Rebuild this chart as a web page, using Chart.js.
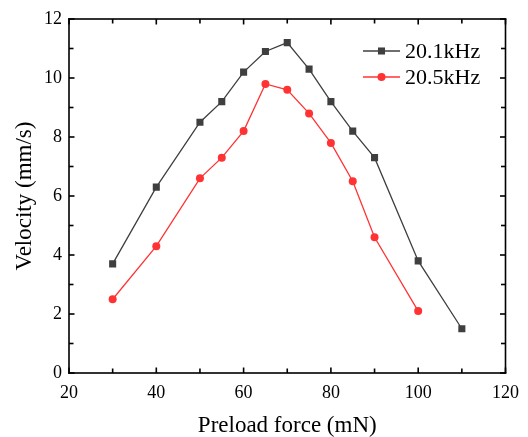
<!DOCTYPE html>
<html>
<head>
<meta charset="utf-8">
<script src="https://cdn.jsdelivr.net/npm/chart.js@4"></script>
<style>
  html, body { margin: 0; padding: 0; background: #fff; }
  #wrap { width: 528px; height: 437px; }
</style>
</head>
<body>
<div id="wrap"><canvas id="chart" width="528" height="437"></canvas></div>
<script>
let forces201 = [30, 40, 50, 55, 60, 65, 70, 75, 80, 85, 90, 100, 110];
let velocity201 = [3.7, 6.3, 8.5, 9.2, 10.2, 10.9, 11.2, 10.3, 9.2, 8.2, 7.3, 3.8, 1.5];

let forces205 = [30, 40, 50, 55, 60, 65, 70, 75, 80, 85, 90, 100];
let velocity205 = [2.5, 4.3, 6.6, 7.3, 8.2, 9.8, 9.6, 8.8, 7.8, 6.5, 4.6, 2.1];

let seriesNames = ['20.1kHz', '20.5kHz'];
let xTitle = 'Preload force (mN)';
let yTitle = 'Velocity (mm/s)';

let darkColor = '#3f3f3f';
let redColor = '#ff3333';
let fontFamily = '"Liberation Serif", "Times New Roman", serif';

function toPoints(xs, ys) {
    let pts = [];
    for (let i = 0; i < xs.length; i++) {
        pts.push({ x: xs[i], y: ys[i] });
    }
    return pts;
}

// box round the plot with small ticks pointing inward on all four sides
let inwardTicks = {
    id: 'inwardTicks',
    afterDraw(chart) {
        let c = chart.ctx;
        let area = chart.chartArea;
        let xs = chart.scales.x;
        let ys = chart.scales.y;
        let w = 1.6;
        c.save();
        c.fillStyle = '#000000';
        c.fillRect(area.left - w / 2, area.top - w / 2, w, area.bottom - area.top + w);
        c.fillRect(area.right - w / 2, area.top - w / 2, w, area.bottom - area.top + w);
        c.fillRect(area.left - w / 2, area.top - w / 2, area.right - area.left + w, w);
        c.fillRect(area.left - w / 2, area.bottom - w / 2, area.right - area.left + w, w);
        xs.ticks.forEach(t => {
            let px = xs.getPixelForValue(t.value);
            let len = t.value % 20 === 0 ? 5.5 : 4.5;
            c.fillRect(px - w / 2, area.bottom - len, w, len);
            c.fillRect(px - w / 2, area.top, w, len);
        });
        ys.ticks.forEach(t => {
            let py = ys.getPixelForValue(t.value);
            let len = t.value % 2 === 0 ? 5.5 : 4.5;
            c.fillRect(area.left, py - w / 2, len, w);
            c.fillRect(area.right - len, py - w / 2, len, w);
        });
        c.restore();
    }
};

// legend drawn inside the plot, top right
let innerLegend = {
    id: 'innerLegend',
    afterDatasetsDraw(chart) {
        let c = chart.ctx;
        let area = chart.chartArea;
        c.save();
        chart.data.datasets.forEach((ds, i) => {
            let y = area.top + 32 + i * 26;
            let x0 = area.left + 294;
            let x1 = x0 + 37;
            c.strokeStyle = ds.borderColor;
            c.lineWidth = 1.3;
            c.beginPath();
            c.moveTo(x0, y);
            c.lineTo(x1, y);
            c.stroke();
            c.fillStyle = ds.backgroundColor;
            Chart.helpers.drawPoint(c, {
                pointStyle: ds.pointStyle,
                radius: ds.pointRadius,
                borderWidth: 0
            }, (x0 + x1) / 2, y);
            c.fillStyle = '#000';
            c.font = '22px ' + fontFamily;
            c.textBaseline = 'middle';
            c.textAlign = 'left';
            c.fillText(ds.label, x1 + 5, y + 1);
        });
        c.restore();
    }
};

let ctx = document.getElementById('chart').getContext('2d');
let myChart = new Chart(ctx, {
    type: 'line',
    data: {
        datasets: [
            {
                label: seriesNames[0],
                data: toPoints(forces201, velocity201),
                borderColor: darkColor,
                backgroundColor: darkColor,
                borderWidth: 1.3,
                pointStyle: 'rect',
                pointRadius: 5,
                pointBorderWidth: 0,
                tension: 0
            },
            {
                label: seriesNames[1],
                data: toPoints(forces205, velocity205),
                borderColor: redColor,
                backgroundColor: redColor,
                borderWidth: 1.3,
                pointStyle: 'circle',
                pointRadius: 4,
                pointBorderWidth: 0,
                tension: 0
            }
        ]
    },
    options: {
        responsive: false,
        animation: false,
        layout: { padding: { left: 0, right: 17, top: 19, bottom: 0 } },
        plugins: {
            legend: { display: false },
            tooltip: { enabled: false }
        },
        scales: {
            x: {
                type: 'linear',
                min: 20,
                max: 120,
                grid: { display: false, drawTicks: false },
                border: { display: false },
                ticks: {
                    stepSize: 10,
                    padding: 9,
                    color: '#000',
                    maxRotation: 0,
                    autoSkip: false,
                    font: { family: fontFamily, size: 18 },
                    callback: v => (v % 20 === 0 ? String(v) : '')
                },
                title: {
                    display: true,
                    text: xTitle,
                    color: '#000',
                    font: { family: fontFamily, size: 23, lineHeight: 1 },
                    padding: { top: 0, bottom: 0 }
                },
                afterFit: scale => { scale.height = 64; }
            },
            y: {
                min: 0,
                max: 12,
                grid: { display: false, drawTicks: false },
                border: { display: false },
                ticks: {
                    stepSize: 1,
                    padding: 7,
                    color: '#000',
                    autoSkip: false,
                    font: { family: fontFamily, size: 18 },
                    callback: v => (v % 2 === 0 ? String(v) : '')
                },
                title: {
                    display: true,
                    text: yTitle,
                    color: '#000',
                    font: { family: fontFamily, size: 23, lineHeight: 1 },
                    padding: { top: 13, bottom: 0 }
                },
                afterFit: scale => { scale.width = 69; }
            }
        }
    },
    plugins: [inwardTicks, innerLegend]
});
</script>
</body>
</html>
